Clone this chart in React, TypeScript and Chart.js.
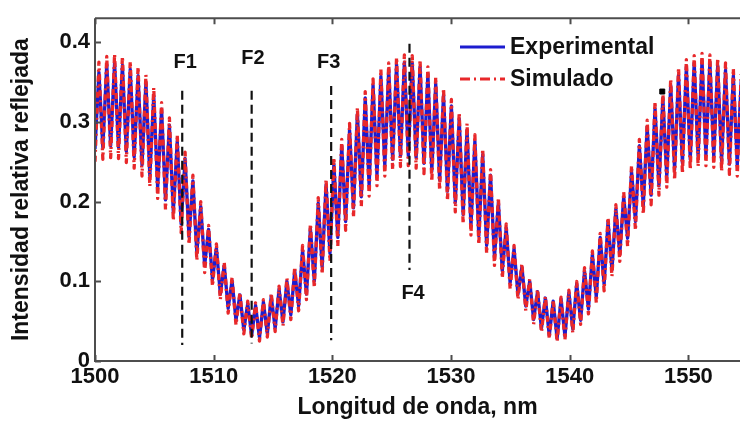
import React, { useEffect, useRef } from 'react';
import { Chart, registerables } from 'chart.js';
Chart.register(...registerables);

// Sampling grid: alternating fringe troughs / crests every half fringe period
const X_START = 1500;
const X_STEP = 0.33;

// Simulado (red) – trough and crest values of each fringe
const SIM_BOTTOMS = [0.250,0.253,0.255,0.254,0.249,0.242,0.232,0.219,0.204,0.190,0.176,0.161,0.146,0.126,0.111,0.094,0.077,0.060,0.045,0.034,0.028,0.025,0.030,0.037,0.044,0.052,0.063,0.077,0.092,0.109,0.125,0.144,0.164,0.180,0.194,0.207,0.220,0.232,0.240,0.244,0.245,0.242,0.235,0.225,0.214,0.201,0.187,0.172,0.158,0.146,0.135,0.120,0.104,0.090,0.077,0.063,0.046,0.036,0.028,0.024,0.027,0.035,0.046,0.059,0.073,0.088,0.106,0.125,0.144,0.164,0.184,0.196,0.208,0.218,0.227,0.235,0.240,0.244,0.245,0.243,0.238,0.234,0.232];
const SIM_TOPS = [0.375,0.382,0.385,0.382,0.376,0.369,0.359,0.343,0.324,0.305,0.284,0.262,0.233,0.200,0.170,0.147,0.124,0.105,0.086,0.075,0.073,0.077,0.085,0.094,0.104,0.118,0.145,0.172,0.205,0.228,0.255,0.278,0.298,0.318,0.338,0.354,0.366,0.374,0.381,0.384,0.383,0.378,0.369,0.356,0.342,0.328,0.312,0.298,0.284,0.266,0.240,0.205,0.172,0.145,0.122,0.103,0.090,0.081,0.077,0.080,0.089,0.100,0.117,0.138,0.160,0.180,0.196,0.212,0.245,0.278,0.302,0.325,0.338,0.354,0.368,0.378,0.383,0.386,0.384,0.380,0.374,0.367,0.360];

// Experimental (blue) – trough and crest values of each fringe
const EXP_BOTTOMS = [0.266,0.268,0.270,0.268,0.263,0.256,0.246,0.232,0.217,0.202,0.187,0.172,0.156,0.136,0.120,0.102,0.084,0.066,0.051,0.039,0.032,0.029,0.034,0.041,0.049,0.058,0.069,0.084,0.100,0.118,0.135,0.155,0.175,0.192,0.206,0.220,0.233,0.245,0.253,0.257,0.258,0.255,0.248,0.238,0.227,0.213,0.199,0.184,0.169,0.157,0.145,0.130,0.113,0.098,0.084,0.069,0.052,0.041,0.032,0.028,0.031,0.040,0.051,0.065,0.080,0.096,0.114,0.134,0.154,0.175,0.195,0.208,0.220,0.231,0.240,0.248,0.253,0.257,0.258,0.256,0.251,0.247,0.245];
const EXP_TOPS = [0.362,0.372,0.374,0.371,0.366,0.358,0.349,0.333,0.316,0.296,0.276,0.254,0.226,0.194,0.165,0.142,0.120,0.101,0.083,0.072,0.070,0.074,0.081,0.090,0.100,0.113,0.139,0.166,0.198,0.221,0.247,0.270,0.290,0.310,0.330,0.346,0.357,0.366,0.372,0.375,0.374,0.369,0.360,0.348,0.334,0.320,0.304,0.290,0.276,0.259,0.233,0.199,0.167,0.141,0.118,0.100,0.087,0.079,0.075,0.078,0.086,0.097,0.113,0.134,0.155,0.175,0.191,0.206,0.238,0.270,0.294,0.317,0.330,0.346,0.359,0.369,0.374,0.377,0.375,0.371,0.365,0.358,0.351];

// Stray black marker
const MARKER_X = [1547.8];
const MARKER_Y = [0.338];

// Vertical markers F1..F4
const F_LABELS = ['F1', 'F2', 'F3', 'F4'];
const F_X = [1507.35, 1513.2, 1519.9, 1526.5];
const F_Y_TOP = [0.339, 0.339, 0.345, 0.398];
const F_Y_BOTTOM = [0.020, 0.022, 0.026, 0.114];
const F_LABEL_X = [1507.6, 1513.3, 1519.7, 1526.8];
const F_LABEL_Y = [0.375, 0.379, 0.374, 0.085];

const X_TICKS = [1500, 1510, 1520, 1530, 1540, 1550];
const Y_TICKS = [0, 0.1, 0.2, 0.3, 0.4];
const Y_TICK_LABELS = ['0', '0.1', '0.2', '0.3', '0.4'];

const SERIES_NAMES = ['Experimental', 'Simulado'];
const BLUE = '#1c1ccf';
const RED = '#e8282a';
const FONT = '"Liberation Sans", Arial, Helvetica, sans-serif';
const AXIS_COLOR = '#4d4d4d';

function buildSeries(bottoms: number[], tops: number[]) {
  const pts: { x: number; y: number }[] = [];
  for (let i = 0; i < bottoms.length; i++) {
    pts.push({ x: X_START + X_STEP * (2 * i), y: bottoms[i] });
    pts.push({ x: X_START + X_STEP * (2 * i + 1), y: tops[i] });
  }
  return pts;
}

const framePlugin = {
  id: 'frame',
  afterDatasetsDraw(chart: any) {
    const { ctx, chartArea: a, scales } = chart;
    const xs = scales.x;
    const ys = scales.y;
    ctx.save();
    ctx.strokeStyle = AXIS_COLOR;
    ctx.lineWidth = 2;
    ctx.beginPath();
    ctx.moveTo(a.left, a.top);
    ctx.lineTo(a.right, a.top);
    ctx.moveTo(a.left, a.top);
    ctx.lineTo(a.left, a.bottom);
    ctx.lineTo(a.right, a.bottom);
    const tl = 6;
    X_TICKS.forEach((v) => {
      const px = Math.round(xs.getPixelForValue(v)) + 0.5;
      ctx.moveTo(px, a.bottom);
      ctx.lineTo(px, a.bottom - tl);
      ctx.moveTo(px, a.top);
      ctx.lineTo(px, a.top + tl);
    });
    Y_TICKS.forEach((v) => {
      const py = Math.round(ys.getPixelForValue(v)) + 0.5;
      ctx.moveTo(a.left, py);
      ctx.lineTo(a.left + tl, py);
    });
    ctx.stroke();

    // F labels
    ctx.fillStyle = '#111';
    ctx.font = `bold 20px ${FONT}`;
    ctx.textAlign = 'center';
    ctx.textBaseline = 'middle';
    F_LABELS.forEach((t, i) => {
      ctx.fillText(t, xs.getPixelForValue(F_LABEL_X[i]), ys.getPixelForValue(F_LABEL_Y[i]));
    });

    // Legend
    const lx0 = 460, lx1 = 505;
    const rows = [47, 79];
    ctx.lineWidth = 3;
    ctx.strokeStyle = BLUE;
    ctx.setLineDash([]);
    ctx.beginPath();
    ctx.moveTo(lx0, rows[0]);
    ctx.lineTo(lx1, rows[0]);
    ctx.stroke();
    ctx.strokeStyle = RED;
    ctx.setLineDash([10, 4, 2, 4]);
    ctx.beginPath();
    ctx.moveTo(lx0, rows[1]);
    ctx.lineTo(lx1, rows[1]);
    ctx.stroke();
    ctx.setLineDash([]);
    ctx.fillStyle = '#111';
    ctx.font = `bold 23px ${FONT}`;
    ctx.textAlign = 'left';
    SERIES_NAMES.forEach((t, i) => ctx.fillText(t, 510, rows[i] + 1));
    ctx.restore();
  },
};

export default function App() {
  const ref = useRef<HTMLCanvasElement | null>(null);
  useEffect(() => {
    if (!ref.current) return;
    const fDatasets = F_X.map((x, i) => ({
      label: F_LABELS[i],
      data: [
        { x, y: F_Y_TOP[i] },
        { x, y: F_Y_BOTTOM[i] },
      ],
      borderColor: '#111',
      borderWidth: 2.2,
      borderDash: [9, 5],
      pointRadius: 0,
      order: 0,
    }));
    const chart = new Chart(ref.current, {
      type: 'line',
      data: {
        datasets: [
          {
            label: SERIES_NAMES[0],
            data: buildSeries(EXP_BOTTOMS, EXP_TOPS),
            borderColor: BLUE,
            borderWidth: 3.3,
            pointRadius: 0,
            borderJoinStyle: 'round',
            order: 3,
          },
          {
            label: SERIES_NAMES[1],
            data: buildSeries(SIM_BOTTOMS, SIM_TOPS),
            borderColor: RED,
            borderWidth: 3.3,
            borderDash: [6, 4, 2, 4],
            pointRadius: 0,
            borderJoinStyle: 'round',
            order: 2,
          },
          {
            label: 'marker',
            type: 'scatter',
            data: MARKER_X.map((x, i) => ({ x, y: MARKER_Y[i] })),
            backgroundColor: '#000',
            borderColor: '#000',
            pointStyle: 'rect',
            pointRadius: 3.5,
            order: 1,
          } as any,
          ...fDatasets,
        ],
      },
      options: {
        animation: false,
        responsive: false,
        parsing: false,
        normalized: true,
        layout: { padding: { top: 11, right: 0, left: 0, bottom: 0 } },
        plugins: { legend: { display: false }, tooltip: { enabled: false } },
        scales: {
          x: {
            type: 'linear',
            min: 1500,
            max: 1554.35,
            grid: { display: false, drawTicks: false },
            border: { display: false },
            afterBuildTicks: (s: any) => {
              s.ticks = X_TICKS.map((v) => ({ value: v }));
            },
            afterFit: (s: any) => {
              s.height = 60;
            },
            ticks: {
              color: '#111',
              padding: 3,
              maxRotation: 0,
              autoSkip: false,
              font: { family: FONT, size: 22, weight: 'bold' },
              callback: (v: any) => String(v),
            },
            title: {
              display: true,
              text: 'Longitud de onda, nm',
              color: '#111',
              padding: { top: 0, bottom: 0 },
              font: { family: FONT, size: 23, weight: 'bold' },
            },
          },
          y: {
            type: 'linear',
            min: 0,
            max: 0.43,
            grid: { display: false, drawTicks: false },
            border: { display: false },
            afterBuildTicks: (s: any) => {
              s.ticks = Y_TICKS.map((v) => ({ value: v }));
            },
            afterFit: (s: any) => {
              s.width = 95;
            },
            ticks: {
              color: '#111',
              padding: 5,
              autoSkip: false,
              font: { family: FONT, size: 22, weight: 'bold' },
              callback: (v: any) => {
                const i = Y_TICKS.findIndex((t) => Math.abs(t - v) < 1e-9);
                return i >= 0 ? Y_TICK_LABELS[i] : '';
              },
            },
            title: {
              display: true,
              text: 'Intensidad relativa reflejada',
              color: '#111',
              padding: { top: 8, bottom: 0 },
              font: { family: FONT, size: 23, weight: 'bold' },
            },
          },
        },
      },
      plugins: [framePlugin],
    } as any);
    return () => chart.destroy();
  }, []);

  return (
    <div style={{ position: 'fixed', left: 0, top: 0, width: 745, height: 421, background: '#fff' }}>
      <canvas ref={ref} width={745} height={421} style={{ width: 745, height: 421, display: 'block' }} />
    </div>
  );
}
